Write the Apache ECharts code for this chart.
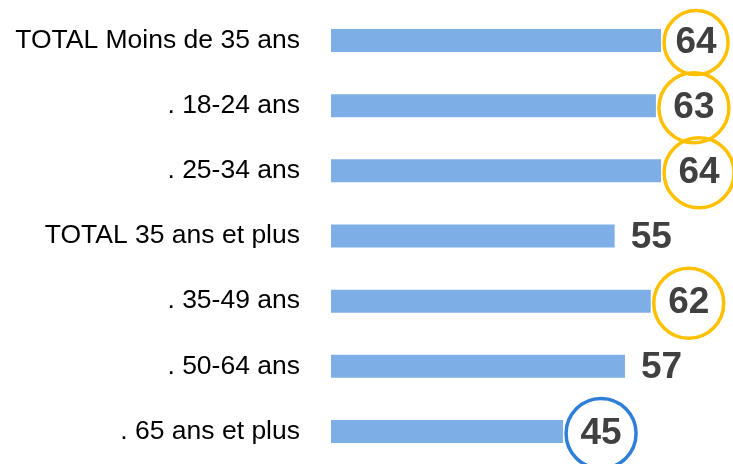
<!DOCTYPE html>
<html>
<head>
<meta charset="utf-8">
<script src="https://cdn.jsdelivr.net/npm/echarts@6/dist/echarts.min.js"></script>
<style>
  html, body { margin: 0; padding: 0; background: #fff; }
  #main { width: 733px; height: 464px; }
</style>
</head>
<body>
<div id="main"></div>
<script>
// données
var categories = ['TOTAL Moins de 35 ans', '. 18-24 ans', '. 25-34 ans', 'TOTAL 35 ans et plus', '. 35-49 ans', '. 50-64 ans', '. 65 ans et plus'];
var values = [64, 63, 64, 55, 62, 57, 45];
// cercle autour de la valeur : 'gold', 'blue' ou 'plain'
var marks = ['gold', 'gold', 'gold', 'plain', 'gold', 'plain', 'blue'];

var myChart = echarts.init(document.getElementById('main'));

var circle = function (color, size) {
  return {
    width: size, height: size, lineHeight: size,
    align: 'center',
    borderRadius: size / 2,
    borderColor: color,
    borderWidth: 3.5,
    fontSize: 37, fontWeight: 'bold', color: '#404040',
    fontFamily: 'Liberation Sans, Arial, sans-serif'
  };
};

var data = values.map(function (v, i) {
  var style = marks[i];
  var size = i === 0 ? 64 : 70;
  return {
    value: v,
    label: {
      formatter: '{' + style + '|{c}}',
      distance: style === 'plain' ? 16 : 3,
      rich: {
        gold: circle('#FFC000', size),
        blue: circle('#2F7ED8', size),
        plain: { fontSize: 37, fontWeight: 'bold', color: '#404040', fontFamily: 'Liberation Sans, Arial, sans-serif' }
      }
    }
  };
});

myChart.setOption({
  backgroundColor: '#fff',
  animation: false,
  grid: {
    left: 331,
    right: 41,
    top: 8,
    bottom: -2
  },
  xAxis: {
    type: 'value',
    min: 0,
    max: 70,
    show: false
  },
  yAxis: {
    type: 'category',
    data: categories,
    inverse: true,
    axisLine: { show: false },
    axisTick: { show: false },
    axisLabel: {
      margin: 31,
      fontSize: 26.5,
      color: '#000',
      fontFamily: 'Liberation Sans, Arial, sans-serif'
    }
  },
  series: [{
    type: 'bar',
    data: data,
    barWidth: 23,
    itemStyle: { color: '#7DAEE6' },
    label: {
      show: true,
      position: 'right',
      offset: [0, 2]
    }
  }]
});
</script>
</body>
</html>
